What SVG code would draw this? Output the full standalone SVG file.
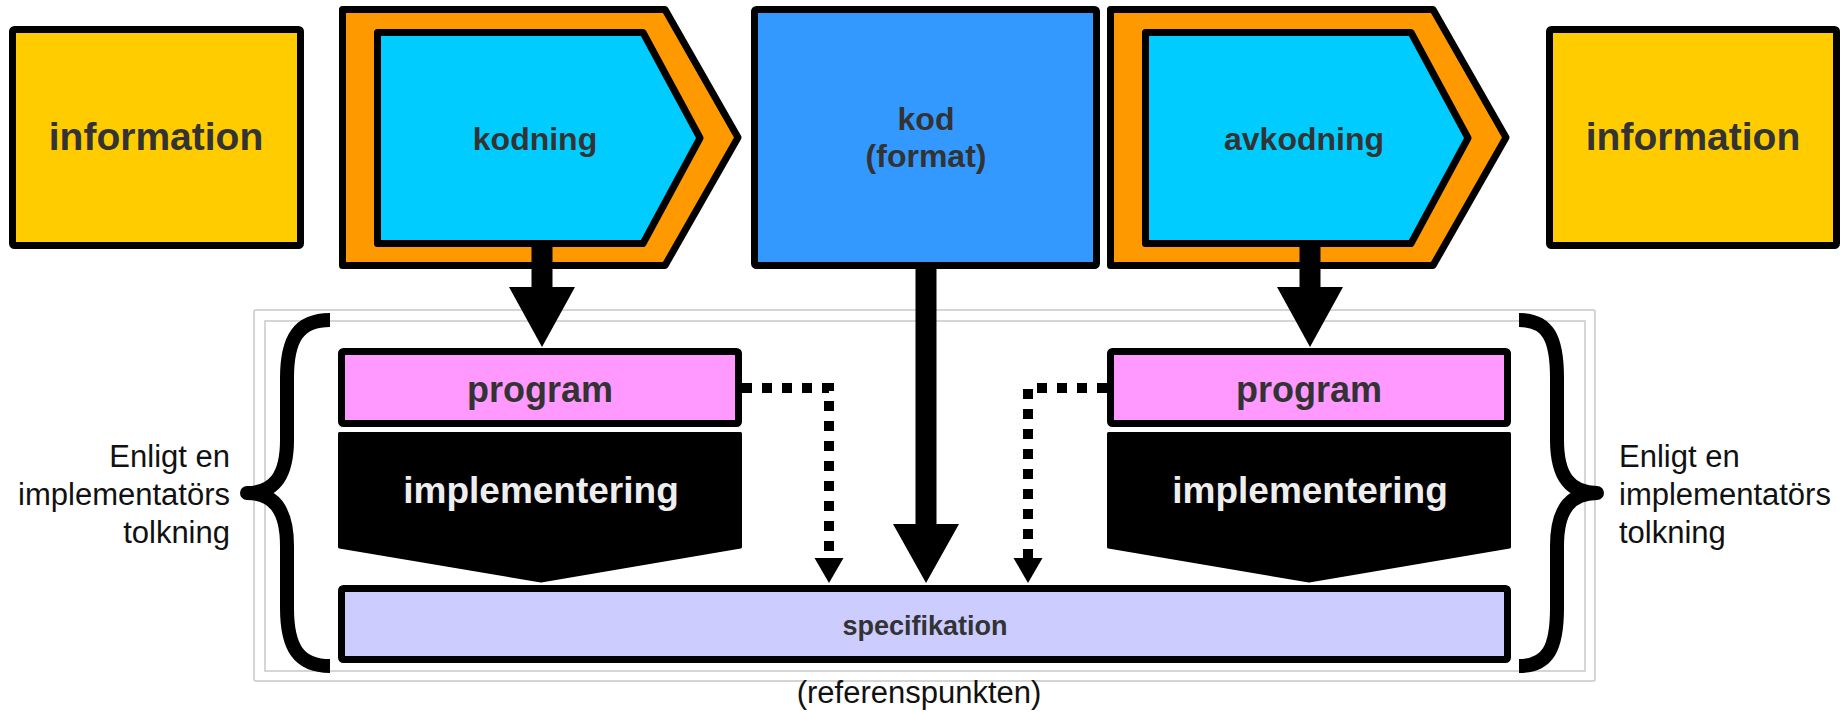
<svg xmlns="http://www.w3.org/2000/svg" width="1846" height="712" viewBox="0 0 1846 712">
<style>
text{font-family:"Liberation Sans",Arial,sans-serif}
.box{stroke:#000;stroke-width:7;stroke-linejoin:round}
.lbl{font-weight:bold;fill:#333;text-anchor:middle}
.impl{fill:#000;stroke:#000;stroke-width:3;stroke-linejoin:round}
.impltxt{font-weight:bold;fill:#eee;text-anchor:middle;font-size:37px}
.side{font-size:31px;fill:#111}
.frame{fill:none;stroke:#c8c8c8;stroke-width:1.5}
.brace{fill:none;stroke:#000;stroke-width:14;stroke-linejoin:round}
.arrow{fill:#000}
.dash{fill:none;stroke:#000;stroke-width:10;stroke-dasharray:10 10}
</style>
<defs>
<marker id="head" markerUnits="userSpaceOnUse" markerWidth="26" markerHeight="30" refX="0" refY="14.5" orient="auto" viewBox="0 0 26 30">
<path d="M0,0 L25,14.5 L0,29 Z" fill="#000"/>
</marker>
</defs>
<rect width="1846" height="712" fill="#fff"/>

<g id="frame">
<rect class="frame" x="254" y="310" width="1341" height="371" rx="2"/>
<rect class="frame" x="265" y="321" width="1320" height="350"/>
</g>

<g id="info-left">
<rect class="box" x="12.5" y="29.5" width="288" height="216" fill="#ffcc00" rx="2"/>
<text class="lbl" x="156" y="150" font-size="39">information</text>
</g>

<g id="kodning">
<polygon class="box" points="342.5,9.5 665,9.5 738,137.5 665,265.5 342.5,265.5" fill="#ff9900"/>
<polygon class="box" points="377.5,32.5 643,32.5 700,138 643,243.5 377.5,243.5" fill="#00ccff"/>
<text class="lbl" x="535" y="150" font-size="32">kodning</text>
</g>

<g id="kod">
<rect class="box" x="754.5" y="9.5" width="342" height="256" fill="#3399ff" rx="2"/>
<text class="lbl" x="926" y="130" font-size="32">kod</text>
<text class="lbl" x="926" y="167" font-size="32">(format)</text>
</g>

<g id="avkodning">
<polygon class="box" points="1110.5,9.5 1433,9.5 1506,137.5 1433,265.5 1110.5,265.5" fill="#ff9900"/>
<polygon class="box" points="1145.5,32.5 1411,32.5 1468,138 1411,243.5 1145.5,243.5" fill="#00ccff"/>
<text class="lbl" x="1304" y="150" font-size="32">avkodning</text>
</g>

<g id="info-right">
<rect class="box" x="1549.5" y="29.5" width="287" height="216" fill="#ffcc00" rx="2"/>
<text class="lbl" x="1693" y="150" font-size="39">information</text>
</g>

<g id="program-left">
<rect class="box" x="341.5" y="351.5" width="397" height="72" fill="#ff99ff" rx="2"/>
<text class="lbl" x="540" y="402" font-size="36">program</text>
</g>

<g id="impl-left">
<polygon class="impl" points="339.5,433.5 740.5,433.5 740.5,547 541,581 339.5,547"/>
<text class="impltxt" x="541" y="503">implementering</text>
</g>

<g id="program-right">
<rect class="box" x="1110.5" y="351.5" width="397" height="72" fill="#ff99ff" rx="2"/>
<text class="lbl" x="1309" y="402" font-size="36">program</text>
</g>

<g id="impl-right">
<polygon class="impl" points="1108.5,433.5 1509.5,433.5 1509.5,547 1309,581 1108.5,547"/>
<text class="impltxt" x="1310" y="503">implementering</text>
</g>

<g id="specifikation">
<rect class="box" x="341.5" y="588.5" width="1166" height="71" fill="#ccccff" rx="2"/>
<text class="lbl" x="925" y="635" font-size="27">specifikation</text>
</g>

<g id="brace-left">
<path class="brace" d="M330,320 C299,320 287,338 287,378 L287,440 C287,476 274,493 247,493 C274,493 287,510 287,546 L287,608 C287,648 299,666 330,666"/>
<text class="side" text-anchor="end" x="230" y="467">Enligt en</text>
<text class="side" text-anchor="end" x="230" y="505">implementatörs</text>
<text class="side" text-anchor="end" x="230" y="543">tolkning</text>
</g>

<g id="brace-right">
<path class="brace" d="M1519,320 C1548,320 1557,338 1557,378 L1557,440 C1557,476 1570,493 1597,493 C1570,493 1557,510 1557,546 L1557,608 C1557,648 1548,666 1519,666"/>
<text class="side" x="1619" y="467">Enligt en</text>
<text class="side" x="1619" y="505">implementatörs</text>
<text class="side" x="1619" y="543">tolkning</text>
</g>

<g id="reference-label">
<text x="919" y="703" font-size="31" text-anchor="middle" fill="#111">(referenspunkten)</text>
</g>

<g id="connectors">
<path class="arrow" d="M531.5,247 L552.5,247 L552.5,287 L575,287 L542,347 L509,287 L531.5,287 Z"/>
<path class="arrow" d="M915.5,269 L936.5,269 L936.5,524 L959,524 L926,583 L893,524 L915.5,524 Z"/>
<path class="arrow" d="M1299.5,247 L1320.5,247 L1320.5,287 L1343,287 L1310,347 L1277,287 L1299.5,287 Z"/>
<path class="dash" d="M742,388 H829 V558" marker-end="url(#head)"/>
<path class="dash" d="M1107,388 H1028 V558" marker-end="url(#head)"/>
</g>
</svg>
